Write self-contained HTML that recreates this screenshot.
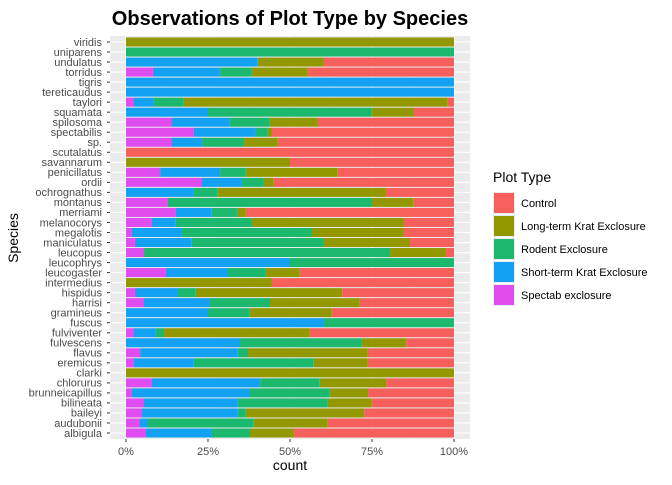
<!DOCTYPE html>
<html><head><meta charset="utf-8"><style>
body{margin:0;background:#fff;font-family:"Liberation Sans",Arial,sans-serif}
</style></head><body>
<svg id="c" width="672" height="480" xmlns="http://www.w3.org/2000/svg"></svg>
<script>
const species=["viridis","uniparens","undulatus","torridus","tigris","tereticaudus","taylori","squamata","spilosoma","spectabilis","sp.","scutalatus","savannarum","penicillatus","ordii","ochrognathus","montanus","merriami","melanocorys","megalotis","maniculatus","leucopus","leucophrys","leucogaster","intermedius","hispidus","harrisi","gramineus","fuscus","fulviventer","fulvescens","flavus","eremicus","clarki","chlorurus","brunneicapillus","bilineata","baileyi","audubonii","albigula"];
const spectab=[0,0,0,8.2,0,0,2.2,0,13.9,20.7,13.9,0,0,10.4,23,0,12.6,15,7.7,1.8,2.7,5.5,0,12,0,2.7,5.3,0,0,2.2,0,4.3,2.4,0,7.7,1.8,5.3,4.7,4.1,6.1];
const shortTerm=[0,0,40,20.2,100,100,6.3,25,17.6,18.6,9.3,0,0,18.3,12.2,20.7,0,11,7.5,15.1,17.2,0,50,19.1,0,13,20.3,25,60.2,6.9,34.6,29.6,18.1,0,33.2,36,28.8,29.4,2.6,20.1];
const rodent=[0,100,0,9.9,0,0,8.9,49.9,12.3,3.9,12.8,0,0,7.7,6.7,7.1,62.4,7.8,23.2,39.8,40.3,75,50,11.4,0,5.4,18.3,12.6,39.8,2.5,37.3,3.3,36.6,0,18,24.2,27.3,2.3,32.1,11.6];
const longTerm=[100,0,20.2,16.9,0,0,80.5,12.6,14.6,1.3,10.3,0,50,28,3,51.3,12.6,2.6,46.2,27.9,26.4,16.9,0,10.5,44.5,44.8,27.4,25,0,44.3,13.5,36.4,16.5,100,20.4,11.8,13.4,36.2,22.6,13.4];
const control=[0,0,39.8,44.8,0,0,2.1,12.5,41.6,55.5,53.7,100,50,35.6,55.1,20.9,12.4,63.6,15.4,15.4,13.4,2.6,0,47,55.5,34.1,28.7,37.4,0,44.1,14.6,26.4,26.4,0,20.7,26.2,25.2,27.4,38.6,48.8];
const seriesNames=["Spectab exclosure","Short-term Krat Exclosure","Rodent Exclosure","Long-term Krat Exclosure","Control"];
const xTicks=[0,25,50,75,100];
const legendNames=["Control","Long-term Krat Exclosure","Rodent Exclosure","Short-term Krat Exclosure","Spectab exclosure"];

const colors={"Control":"#F8766D","Long-term Krat Exclosure":"#A3A500","Rodent Exclosure":"#00BF7D","Short-term Krat Exclosure":"#00B0F6","Spectab exclosure":"#E76BF3"};
const colorsActual={"Control":"#F5605C","Long-term Krat Exclosure":"#949800","Rodent Exclosure":"#1BB86E","Short-term Krat Exclosure":"#13A2F1","Spectab exclosure":"#DF4CF0"};
const NS="http://www.w3.org/2000/svg";
const svg=document.getElementById('c');
function el(t,a,p){const e=document.createElementNS(NS,t);for(const k in a)e.setAttribute(k,a[k]);(p||svg).appendChild(e);return e;}
const PL=110,PR=470,PT=36,PB=439;
const x0=126,x1=454;
const xs=v=>x0+(x1-x0)*v/100;
const yTop=42,step=(433-42)/39;
const ys=i=>yTop+i*step;
const bh=step*0.9;

const panel=el('rect',{x:PL,y:PT,width:PR-PL,height:PB-PT,fill:'#EBEBEB'});


for(let v=12.5;v<100;v+=25){el('line',{x1:xs(v),x2:xs(v),y1:PT,y2:PB,stroke:'#F5F5F5','stroke-width':0.6});}
xTicks.forEach(v=>{el('line',{x1:xs(v),x2:xs(v),y1:PT,y2:PB,stroke:'#fff','stroke-width':1.1});});
species.forEach((s,i)=>{el('line',{x1:PL,x2:PR,y1:ys(i),y2:ys(i),stroke:'#fff','stroke-width':1.1});});

const seriesData=[spectab,shortTerm,rodent,longTerm,control];
species.forEach((s,i)=>{
  let acc=0;
  seriesData.forEach((arr,k)=>{
    const v=arr[i];
    if(v>0){
      const r=el('rect',{x:xs(acc),y:ys(i)-bh/2,width:xs(acc+v)-xs(acc),height:bh,fill:colorsActual[seriesNames[k]]});
      
      
    }
    acc+=v;
  });
  const t=el('text',{x:PL-8,y:ys(i)+3.8,'text-anchor':'end','font-size':11,fill:'#4D4D4D'});
  t.textContent=s;
  
  
  el('line',{x1:PL-3,x2:PL,y1:ys(i),y2:ys(i),stroke:'#333','stroke-width':1});
});
xTicks.forEach(v=>{
  el('line',{x1:xs(v),x2:xs(v),y1:PB,y2:PB+3,stroke:'#333','stroke-width':1});
  const t=el('text',{x:xs(v),y:455,'text-anchor':'middle','font-size':11,fill:'#4D4D4D'});
  t.textContent=v+'%';
  
  
});
let t=el('text',{x:290,y:470,'text-anchor':'middle','font-size':14,fill:'#000'});t.textContent='count';


t=el('text',{x:0,y:0,'text-anchor':'middle','font-size':14,fill:'#000',transform:'translate(18,238) rotate(-90)'});t.textContent='Species';


t=el('text',{x:290,y:25,'text-anchor':'middle','font-size':20,'font-weight':'bold',fill:'#000'});t.textContent='Observations of Plot Type by Species';


t=el('text',{x:493,y:182,'font-size':14,fill:'#000'});t.textContent='Plot Type';


legendNames.forEach((n,i)=>{
  const y=192+i*23;
  const g=el('g',{});
  
  
  el('rect',{x:493,y:y,width:22,height:22,fill:'#EBEBEB'},g);
  el('rect',{x:494,y:y+1,width:20,height:20,fill:colorsActual[n]},g);
  const tt=el('text',{x:521,y:y+15,'font-size':11,fill:'#000'},g);tt.textContent=n;
});
</script>
</body></html>
